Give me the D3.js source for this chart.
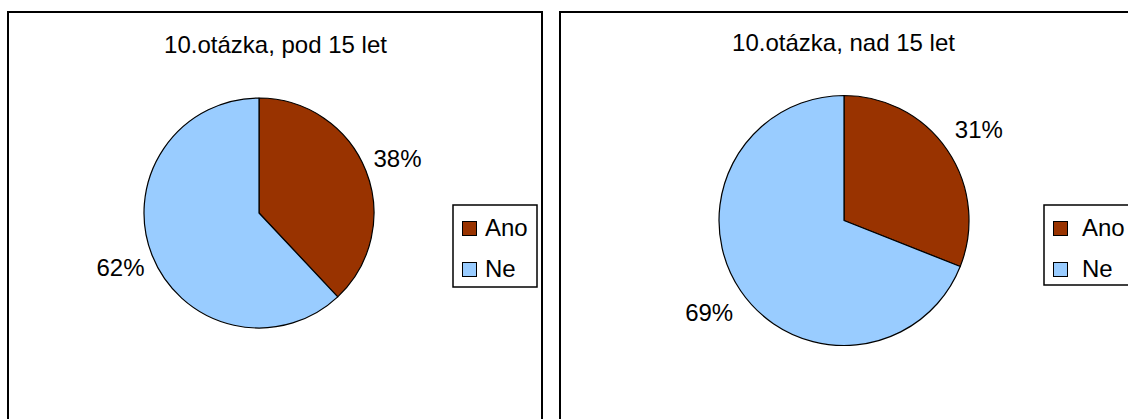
<!DOCTYPE html>
<html>
<head>
<meta charset="utf-8">
<script src="https://cdn.jsdelivr.net/npm/d3@7"></script>
<style>
html,body{margin:0;padding:0;background:#fff;}
svg{display:block;}
text{font-family:"Liberation Sans",Arial,sans-serif;fill:#000;}
</style>
</head>
<body>
<svg id="chart" width="1128" height="419"></svg>
<script>
const categories = ["Ano", "Ne"];
const colors = ["#993300", "#99CCFF"];
const titles = ["10.otázka, pod 15 let", "10.otázka, nad 15 let"];
const valuesUnder15 = [38, 62];
const valuesOver15 = [31, 69];
const labelsUnder15 = ["38%", "62%"];
const labelsOver15 = ["31%", "69%"];

const panels = [
  {x: 8, y: 12, w: 534, h: 420, title: titles[0], tx: 275.5, ty: 53,
   cx: 259, cy: 213, r: 115, lr: 149, values: valuesUnder15, labels: labelsUnder15,
   lgx: 453, lgy: 205, lgw: 84, lgh: 82, lgSq: 462, lgTx: 485},
  {x: 560, y: 12, w: 600, h: 420, title: titles[1], tx: 843.5, ty: 51,
   cx: 844, cy: 220.5, r: 125, lr: 163, values: valuesOver15, labels: labelsOver15,
   lgx: 1044, lgy: 205, lgw: 100, lgh: 80, lgSq: 1053, lgTx: 1082}
];

const svg = d3.select("#chart");
const color = d3.scaleOrdinal().domain(categories).range(colors);
const pie = d3.pie().sort(null).value(d => d.v).startAngle(0).endAngle(2 * Math.PI);

panels.forEach(p => {
  const g = svg.append("g");
  g.append("rect").attr("x", p.x).attr("y", p.y).attr("width", p.w).attr("height", p.h)
    .attr("fill", "#fff").attr("stroke", "#000").attr("stroke-width", 2);
  g.append("text").attr("x", p.tx).attr("y", p.ty).attr("text-anchor", "middle")
    .attr("font-size", 24).text(p.title);

  const data = categories.map((c, i) => ({c: c, v: p.values[i], l: p.labels[i]}));
  const arcs = pie(data);
  const arc = d3.arc().innerRadius(0).outerRadius(p.r);
  const labelArc = d3.arc().innerRadius(p.lr).outerRadius(p.lr);
  const pg = g.append("g").attr("transform", `translate(${p.cx},${p.cy})`);
  pg.selectAll("path").data(arcs).join("path")
    .attr("d", arc).attr("fill", d => color(d.data.c))
    .attr("stroke", "#000").attr("stroke-width", 1.2).attr("stroke-linejoin", "round");
  pg.selectAll("text").data(arcs).join("text")
    .attr("transform", d => `translate(${labelArc.centroid(d)})`)
    .attr("text-anchor", "middle").attr("dy", "0.36em")
    .attr("font-size", 24).text(d => d.data.l);

  const lg = g.append("g");
  lg.append("rect").attr("x", p.lgx).attr("y", p.lgy).attr("width", p.lgw).attr("height", p.lgh)
    .attr("fill", "#fff").attr("stroke", "#000").attr("stroke-width", 1.5);
  categories.forEach((c, i) => {
    const base = p.lgy + 31 + i * 41;
    lg.append("rect").attr("x", p.lgSq + 0.5).attr("y", base - 14.5).attr("width", 14).attr("height", 14)
      .attr("fill", color(c)).attr("stroke", "#000").attr("stroke-width", 1);
    lg.append("text").attr("x", p.lgTx).attr("y", base).attr("font-size", 24).text(c);
  });
});
</script>
</body>
</html>
